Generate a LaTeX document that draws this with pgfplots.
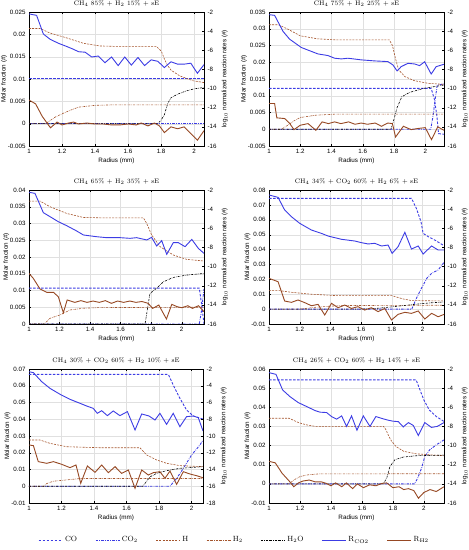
\documentclass[border=0pt]{standalone}
\usepackage{fontspec}
\setsansfont{Liberation Sans}
\usepackage{pgfplots}
\pgfplotsset{compat=1.18}
\definecolor{cblue}{RGB}{60,60,228}
\definecolor{cbrown}{RGB}{165,85,45}
\definecolor{cbrownd}{RGB}{150,72,35}
\tikzset{
 sCO/.style={cblue, line width=0.9pt, dash pattern=on 2.5pt off 1.5pt},
 sCOt/.style={cblue, line width=0.9pt, dash pattern=on 2.5pt off 1.2pt on 0.6pt off 1.2pt},
 sH/.style={cbrown, line width=0.6pt, dash pattern=on 2pt off 1.2pt},
 sHt/.style={cbrown, line width=0.6pt, dash pattern=on 2pt off 1pt on 0.5pt off 1pt},
 sW/.style={black, line width=0.6pt, dash pattern=on 2pt off 1pt on 0.5pt off 1pt},
 sRC/.style={cblue, line width=0.9pt},
 sRH/.style={cbrownd, line width=0.9pt},
}
\pgfplotsset{
 base/.style={scale only axis, width=175pt, height=134pt, xmin=1,
   /pgf/number format/assume math mode=true,
   tick label style={font=\sffamily\fontsize{6.2}{7}\selectfont},
   label style={font=\sffamily\fontsize{6.3}{7}\selectfont},
   major tick length=2pt, tick style={black, line width=0.3pt},
   axis line style={line width=0.4pt}},
 leftax/.style={base, grid=major, grid style={black!12, line width=0.3pt},
   xtick={1,1.2,1.4,1.6,1.8,2}, ytick pos=left,
   xlabel={Radius (mm)}, ylabel={Molar fraction (\#)},
   ylabel shift=-6pt, xlabel shift=-2.5pt,
   title style={font=\fontsize{6.5}{7}\selectfont, yshift=-4pt},
   scaled y ticks=false,
   yticklabel style={/pgf/number format/fixed, /pgf/number format/precision=3},
   xticklabel style={/pgf/number format/fixed, /pgf/number format/precision=1}},
 rightax/.style={base, axis y line*=right, axis x line=none, ylabel shift=-1.5pt,
   ylabel={log$_{10}$ normalized reaction rates (\#)}, ymax=-2},
}
\begin{document}
\begin{tikzpicture}
\useasboundingbox (0,0) rectangle (469pt,550pt);
% ---------------- Panel 1
\begin{axis}[leftax, at={(29pt,404pt)}, anchor=south west, xmax=2.06, ymin=-0.005, ymax=0.025,
 ytick={-0.005,0,0.005,0.01,0.015,0.02,0.025}, title={CH$_4$ 85\% + H$_2$ 15\% + sE}]
\addplot[sCO] coordinates {(1,0.0102) (2.06,0.0102)};
\addplot[sCOt] coordinates {(1,0) (2.06,0)};
\addplot[sH] coordinates {(1,0.0213) (1.067,0.0213) (1.127,0.0203) (1.228,0.0192) (1.329,0.018) (1.429,0.0174) (1.53,0.0173) (1.772,0.0173) (1.802,0.0162) (1.82,0.0145) (1.84,0.013) (1.86,0.012) (1.913,0.0107) (1.994,0.0096) (2.06,0.0092)};
\addplot[sHt] coordinates {(1,0) (1.1,0) (1.12,0.0005) (1.16,0.0015) (1.2,0.0022) (1.25,0.003) (1.3,0.0037) (1.4,0.0041) (1.5,0.0042) (2.06,0.0042)};
\addplot[sW] coordinates {(1,0) (1.78,0) (1.8,0.0008) (1.82,0.002) (1.84,0.0045) (1.86,0.0058) (1.9,0.0066) (1.95,0.0073) (2.0,0.0078) (2.06,0.0081)};
\end{axis}
\begin{axis}[rightax, at={(29pt,404pt)}, anchor=south west, xmax=2.06, ymin=-16, ytick={-16,-14,-12,-10,-8,-6,-4,-2}]
\addplot[sRC] coordinates {(1,-2.2) (1.046,-2.35) (1.087,-4.3) (1.127,-4.84) (1.177,-5.26) (1.228,-5.6) (1.27,-5.9) (1.3,-6.15) (1.34,-6.2) (1.38,-6.7) (1.42,-6.6) (1.46,-7.3) (1.5,-6.7) (1.54,-7.6) (1.58,-6.7) (1.62,-7.55) (1.66,-6.75) (1.7,-7.6) (1.74,-7.0) (1.78,-7.15) (1.82,-7.8) (1.86,-7.2) (1.9,-7.45) (1.94,-7.45) (1.98,-7.35) (2.02,-8.4) (2.06,-7.5)};
\addplot[sRH] coordinates {(1,-11.2) (1.04,-11.6) (1.08,-12.9) (1.13,-14.1) (1.17,-13.5) (1.2,-13.8) (1.24,-13.6) (1.27,-13.5) (1.3,-13.7) (1.35,-13.6) (1.4,-13.7) (1.45,-13.7) (1.5,-13.8) (1.55,-13.8) (1.6,-13.7) (1.65,-13.8) (1.68,-13.6) (1.72,-13.9) (1.76,-13.6) (1.79,-13.9) (1.82,-14.6) (1.86,-14.0) (1.9,-14.2) (1.94,-14.0) (1.98,-14.7) (2.02,-15.4) (2.06,-14.4)};
\end{axis}
% ---------------- Panel 2
\begin{axis}[leftax, at={(269pt,404pt)}, anchor=south west, xmax=2.12, ymin=-0.005, ymax=0.035,
 ytick={-0.005,0,0.005,0.01,0.015,0.02,0.025,0.03,0.035}, title={CH$_4$ 75\% + H$_2$ 25\% + sE}]
\addplot[sCO] coordinates {(1,0.0122) (2.038,0.0122) (2.06,0.0087) (2.075,0.0037) (2.085,-0.0013) (2.12,-0.0015)};
\addplot[sCOt] coordinates {(1,0) (2.035,0) (2.05,0.004) (2.065,0.0095) (2.077,0.0132) (2.12,0.0135)};
\addplot[sH] coordinates {(1,0.0312) (1.06,0.0312) (1.12,0.0299) (1.2,0.0279) (1.31,0.027) (1.42,0.0267) (1.77,0.0267) (1.79,0.025) (1.81,0.021) (1.83,0.0177) (1.87,0.0157) (1.93,0.0145) (2.02,0.0137) (2.12,0.0134)};
\addplot[sHt] coordinates {(1,0) (1.08,0) (1.12,0.0012) (1.16,0.0025) (1.2,0.0035) (1.3,0.0042) (1.42,0.0045) (2.12,0.0045)};
\addplot[sW] coordinates {(1,0) (1.78,0) (1.8,0.003) (1.82,0.0065) (1.85,0.0097) (1.9,0.011) (1.99,0.0122) (2.12,0.0132)};
\end{axis}
\begin{axis}[rightax, at={(269pt,404pt)}, anchor=south west, xmax=2.12, ymin=-16, ytick={-16,-14,-12,-10,-8,-6,-4,-2}]
\addplot[sRC] coordinates {(1,-2.28) (1.036,-2.35) (1.09,-4.03) (1.132,-4.84) (1.207,-5.71) (1.313,-6.38) (1.377,-6.55) (1.42,-6.83) (1.463,-6.9) (1.505,-6.83) (1.59,-7.0) (1.676,-7.11) (1.761,-7.18) (1.793,-7.53) (1.82,-8.16) (1.846,-7.71) (1.889,-7.36) (1.932,-7.43) (1.964,-7.6) (1.996,-7.2) (2.038,-8.48) (2.07,-7.71) (2.12,-7.46)};
\addplot[sRH] coordinates {(1,-11.56) (1.036,-11.56) (1.05,-13.06) (1.1,-13.13) (1.13,-13.59) (1.16,-14.29) (1.2,-13.83) (1.25,-13.66) (1.3,-14.36) (1.34,-13.48) (1.38,-13.66) (1.42,-13.48) (1.46,-13.66) (1.51,-13.48) (1.55,-13.73) (1.59,-13.6) (1.63,-13.73) (1.68,-13.6) (1.72,-13.94) (1.76,-13.6) (1.79,-13.66) (1.81,-15.06) (1.86,-13.94) (1.91,-14.29) (1.95,-14.18) (2.0,-14.08) (2.04,-15.34) (2.08,-14.0) (2.12,-14.36)};
\end{axis}
% ---------------- Panel 3
\begin{axis}[leftax, at={(29pt,226pt)}, anchor=south west, xmax=2.146, ymin=0, ymax=0.04,
 ytick={0,0.005,0.01,0.015,0.02,0.025,0.03,0.035,0.04}, title={CH$_4$ 65\% + H$_2$ 35\% + sE}]
\addplot[sCO] coordinates {(1,0.0107) (2.115,0.0107) (2.13,0.006) (2.146,0.0)};
\addplot[sCOt] coordinates {(1,0) (2.115,0) (2.13,0.004) (2.146,0.0105)};
\addplot[sH] coordinates {(1,0.0367) (1.072,0.0367) (1.138,0.035) (1.247,0.033) (1.356,0.0318) (1.465,0.0317) (1.749,0.0317) (1.771,0.030) (1.803,0.0266) (1.858,0.0231) (1.945,0.0206) (2.032,0.0193) (2.146,0.0188)};
\addplot[sHt] coordinates {(1,0) (1.1,0) (1.138,0.0017) (1.203,0.0027) (1.269,0.0042) (1.356,0.0047) (1.465,0.0049) (2.146,0.005)};
\addplot[sW] coordinates {(1,0) (1.76,0) (1.792,0.0091) (1.836,0.0107) (1.88,0.0126) (1.945,0.0139) (2.032,0.0146) (2.146,0.0151)};
\end{axis}
\begin{axis}[rightax, at={(29pt,226pt)}, anchor=south west, xmax=2.146, ymin=-16, ytick={-16,-14,-12,-10,-8,-6,-4,-2}]
\addplot[sRC] coordinates {(1,-2.24) (1.039,-2.35) (1.094,-4.37) (1.138,-4.79) (1.192,-5.31) (1.247,-5.73) (1.312,-6.28) (1.356,-6.7) (1.443,-6.88) (1.509,-6.98) (1.596,-6.98) (1.662,-7.05) (1.705,-6.98) (1.771,-7.22) (1.803,-6.95) (1.836,-7.85) (1.869,-7.29) (1.902,-8.72) (1.945,-7.5) (1.978,-7.5) (2.022,-7.92) (2.066,-7.16) (2.109,-8.1) (2.146,-8.62)};
\addplot[sRH] coordinates {(1,-10.71) (1.028,-11.23) (1.072,-12.34) (1.116,-12.69) (1.16,-12.69) (1.192,-13.15) (1.225,-14.82) (1.25,-13.49) (1.3,-13.74) (1.34,-13.56) (1.38,-13.74) (1.42,-13.6) (1.46,-13.74) (1.5,-13.56) (1.54,-13.84) (1.58,-13.6) (1.62,-13.74) (1.66,-13.6) (1.7,-13.74) (1.74,-13.65) (1.78,-13.84) (1.81,-14.37) (1.85,-14.02) (1.9,-15.48) (1.935,-13.95) (1.97,-14.19) (2.0,-14.3) (2.04,-14.09) (2.07,-14.37) (2.11,-14.09) (2.146,-14.71)};
\end{axis}
% ---------------- Panel 4
\begin{axis}[leftax, at={(269pt,226pt)}, anchor=south west, xmax=2.14, ymin=-0.01, ymax=0.08,
 ytick={-0.01,0,0.01,0.02,0.03,0.04,0.05,0.06,0.07,0.08}, title={CH$_4$ 34\% + CO$_2$ 60\% + H$_2$ 6\% + sE}]
\addplot[sCO] coordinates {(1,0.0744) (1.928,0.0744) (1.96,0.0677) (1.99,0.0587) (2.004,0.0509) (2.04,0.0485) (2.08,0.0464) (2.14,0.0426)};
\addplot[sCOt] coordinates {(1,0) (1.93,0) (1.96,0.0072) (1.993,0.014) (2.03,0.021) (2.059,0.024) (2.102,0.0263) (2.14,0.0314)};
\addplot[sH] coordinates {(1,0.0124) (1.07,0.0124) (1.146,0.0113) (1.276,0.01) (1.43,0.0091) (1.8,0.0091) (1.87,0.0069) (1.93,0.0057) (2.14,0.0055)};
\addplot[sHt] coordinates {(1,0) (1.2,0) (1.3,0.0012) (1.4,0.002) (1.5,0.0024) (2.14,0.0026)};
\addplot[sW] coordinates {(1,0) (1.6,0) (1.7,0.0005) (1.8,0.0015) (1.93,0.003) (2.05,0.0042) (2.14,0.0048)};
\end{axis}
\begin{axis}[rightax, at={(269pt,226pt)}, anchor=south west, xmax=2.14, ymin=-16, ytick={-16,-14,-12,-10,-8,-6,-4,-2}]
\addplot[sRC] coordinates {(1,-2.52) (1.059,-2.77) (1.102,-4.09) (1.146,-4.79) (1.2,-5.48) (1.276,-6.18) (1.341,-6.53) (1.385,-6.81) (1.472,-7.15) (1.559,-7.33) (1.602,-7.5) (1.646,-7.64) (1.689,-7.57) (1.733,-7.85) (1.776,-7.75) (1.802,-8.62) (1.841,-7.92) (1.885,-6.42) (1.928,-8.17) (1.972,-7.85) (2.004,-8.69) (2.059,-7.85) (2.102,-8.27) (2.141,-8.27)};
\addplot[sRH] coordinates {(1,-11.23) (1.059,-11.58) (1.102,-13.6) (1.146,-13.74) (1.189,-13.49) (1.233,-13.77) (1.276,-14.09) (1.32,-13.95) (1.363,-15.06) (1.407,-13.84) (1.45,-14.3) (1.493,-14.02) (1.537,-14.37) (1.58,-14.19) (1.624,-14.54) (1.667,-14.3) (1.711,-14.71) (1.754,-14.37) (1.798,-15.58) (1.841,-14.99) (1.885,-14.78) (1.928,-14.89) (1.972,-14.64) (2.015,-15.48) (2.059,-14.89) (2.102,-15.24) (2.141,-14.99)};
\end{axis}
% ---------------- Panel 5
\begin{axis}[leftax, width=174pt, at={(29pt,47pt)}, anchor=south west, xmax=2.07, ymin=-0.01, ymax=0.07,
 ytick={-0.01,0,0.01,0.02,0.03,0.04,0.05,0.06,0.07}, title={CH$_4$ 30\% + CO$_2$ 60\% + H$_2$ 10\% + sE}]
\addplot[sCO] coordinates {(1,0.0668) (1.857,0.0668) (1.887,0.0604) (1.928,0.0525) (1.969,0.0455) (2.01,0.042) (2.07,0.0401)};
\addplot[sCOt] coordinates {(1,0) (1.867,0) (1.908,0.0047) (1.949,0.0107) (2.0,0.0187) (2.051,0.0246) (2.07,0.0276)};
\addplot[sH] coordinates {(1,0.0276) (1.068,0.0276) (1.129,0.0256) (1.232,0.0236) (1.436,0.023) (1.682,0.023) (1.723,0.0187) (1.785,0.0157) (1.846,0.0137) (1.928,0.0123) (2.07,0.0117)};
\addplot[sHt] coordinates {(1,0) (1.09,0) (1.109,0.0016) (1.15,0.003) (1.211,0.0036) (1.314,0.0046) (2.07,0.0046)};
\addplot[sW] coordinates {(1,0) (1.70,0) (1.744,0.0056) (1.785,0.0077) (1.846,0.0093) (1.928,0.0107) (2.07,0.0117)};
\end{axis}
\begin{axis}[rightax, width=174pt, at={(29pt,47pt)}, anchor=south west, xmax=2.07, ymin=-18, ytick={-18,-16,-14,-12,-10,-8,-6,-4,-2}]
\addplot[sRC] coordinates {(1,-2.32) (1.027,-2.44) (1.078,-3.51) (1.129,-4.31) (1.191,-5.02) (1.252,-5.62) (1.314,-6.1) (1.355,-6.42) (1.395,-6.7) (1.42,-7.29) (1.447,-6.98) (1.482,-7.57) (1.518,-7.01) (1.559,-7.57) (1.605,-7.09) (1.652,-9.28) (1.693,-7.37) (1.738,-7.61) (1.775,-8.09) (1.805,-7.29) (1.846,-8.61) (1.887,-7.29) (1.928,-8.89) (1.969,-7.69) (2.01,-7.61) (2.041,-7.81) (2.07,-9.4)};
\addplot[sRH] coordinates {(1,-11.07) (1.027,-11.15) (1.057,-13.06) (1.109,-13.26) (1.15,-13.06) (1.201,-13.38) (1.252,-13.78) (1.289,-13.46) (1.318,-15.65) (1.359,-13.58) (1.406,-14.34) (1.447,-13.46) (1.488,-14.38) (1.529,-13.66) (1.57,-14.46) (1.611,-14.06) (1.652,-16.25) (1.693,-14.06) (1.734,-14.66) (1.764,-14.38) (1.805,-14.26) (1.836,-15.05) (1.867,-14.18) (1.908,-15.77) (1.949,-14.26) (1.99,-14.54) (2.031,-14.74) (2.07,-14.98)};
\end{axis}
% ---------------- Panel 6
\begin{axis}[leftax, at={(269pt,47pt)}, anchor=south west, xmax=2.13, ymin=-0.01, ymax=0.06,
 ytick={-0.01,0,0.01,0.02,0.03,0.04,0.05,0.06}, title={CH$_4$ 26\% + CO$_2$ 60\% + H$_2$ 14\% + sE}]
\addplot[sCO] coordinates {(1,0.0543) (1.95,0.0543) (1.975,0.0491) (2.0,0.0438) (2.035,0.0386) (2.08,0.0352) (2.13,0.0326)};
\addplot[sCOt] coordinates {(1,0) (1.94,0) (1.96,0.003) (1.985,0.0082) (2.006,0.0143) (2.038,0.0178) (2.081,0.0204) (2.13,0.023)};
\addplot[sH] coordinates {(1,0.0343) (1.13,0.0343) (1.19,0.032) (1.243,0.0308) (1.30,0.03) (1.74,0.03) (1.755,0.0283) (1.773,0.025) (1.79,0.0225) (1.82,0.0195) (1.87,0.017) (1.95,0.0157) (2.13,0.0147)};
\addplot[sHt] coordinates {(1,0) (1.13,0) (1.16,0.002) (1.2,0.0038) (1.25,0.0047) (1.32,0.0052) (2.13,0.0053)};
\addplot[sW] coordinates {(1,0) (1.738,0) (1.76,0.003) (1.781,0.0091) (1.813,0.0126) (1.867,0.014) (1.953,0.0147) (2.13,0.015)};
\end{axis}
\begin{axis}[rightax, at={(269pt,47pt)}, anchor=south west, xmax=2.13, ymin=-16, ytick={-16,-14,-12,-10,-8,-6,-4,-2}]
\addplot[sRC] coordinates {(1,-2.38) (1.045,-2.56) (1.088,-4.19) (1.135,-4.88) (1.189,-5.51) (1.243,-5.92) (1.297,-6.34) (1.329,-6.51) (1.372,-6.55) (1.404,-6.97) (1.437,-7.24) (1.469,-6.9) (1.501,-8.0) (1.533,-6.9) (1.568,-8.4) (1.609,-6.9) (1.652,-8.0) (1.69,-6.97) (1.738,-7.21) (1.77,-7.35) (1.80,-7.45) (1.835,-7.5) (1.867,-8.05) (1.90,-7.6) (1.932,-7.9) (1.964,-8.95) (2.006,-7.6) (2.049,-8.1) (2.086,-8.0) (2.13,-7.6)};
\addplot[sRH] coordinates {(1,-11.65) (1.04,-11.8) (1.085,-12.9) (1.13,-13.7) (1.16,-14.3) (1.19,-13.9) (1.22,-13.7) (1.26,-13.6) (1.3,-13.8) (1.34,-13.8) (1.37,-13.95) (1.4,-14.2) (1.43,-13.9) (1.47,-14.3) (1.5,-13.9) (1.54,-14.5) (1.57,-14.0) (1.61,-14.4) (1.65,-14.1) (1.69,-14.2) (1.73,-13.95) (1.76,-13.9) (1.8,-14.4) (1.84,-14.3) (1.87,-14.6) (1.9,-14.5) (1.935,-14.7) (1.965,-15.5) (2.0,-14.9) (2.04,-14.6) (2.08,-14.8) (2.13,-14.3)};
\end{axis}
% ---------------- Legend
\begin{axis}[at={(234.5pt,10pt)}, anchor=center, hide axis, scale only axis, width=10pt, height=10pt,
 xmin=0, xmax=1, ymin=0, ymax=1,
 legend columns=7,
 legend style={at={(0.5,0.5)}, anchor=center, draw=none, fill=none,
   font=\fontsize{7.5}{8}\selectfont,
   /tikz/every even column/.append style={column sep=16pt}},
 legend image code/.code={\draw[#1] (0pt,0pt) -- (24pt,0pt);}]
\addlegendimage{sCO}\addlegendentry{CO}
\addlegendimage{sCOt}\addlegendentry{CO$_2$}
\addlegendimage{sH}\addlegendentry{H}
\addlegendimage{sHt}\addlegendentry{H$_2$}
\addlegendimage{sW}\addlegendentry{H$_2$O}
\addlegendimage{sRC}\addlegendentry{R$_{\mathrm{CO2}}$}
\addlegendimage{sRH}\addlegendentry{R$_{\mathrm{H2}}$}
\end{axis}
\end{tikzpicture}
\end{document}
